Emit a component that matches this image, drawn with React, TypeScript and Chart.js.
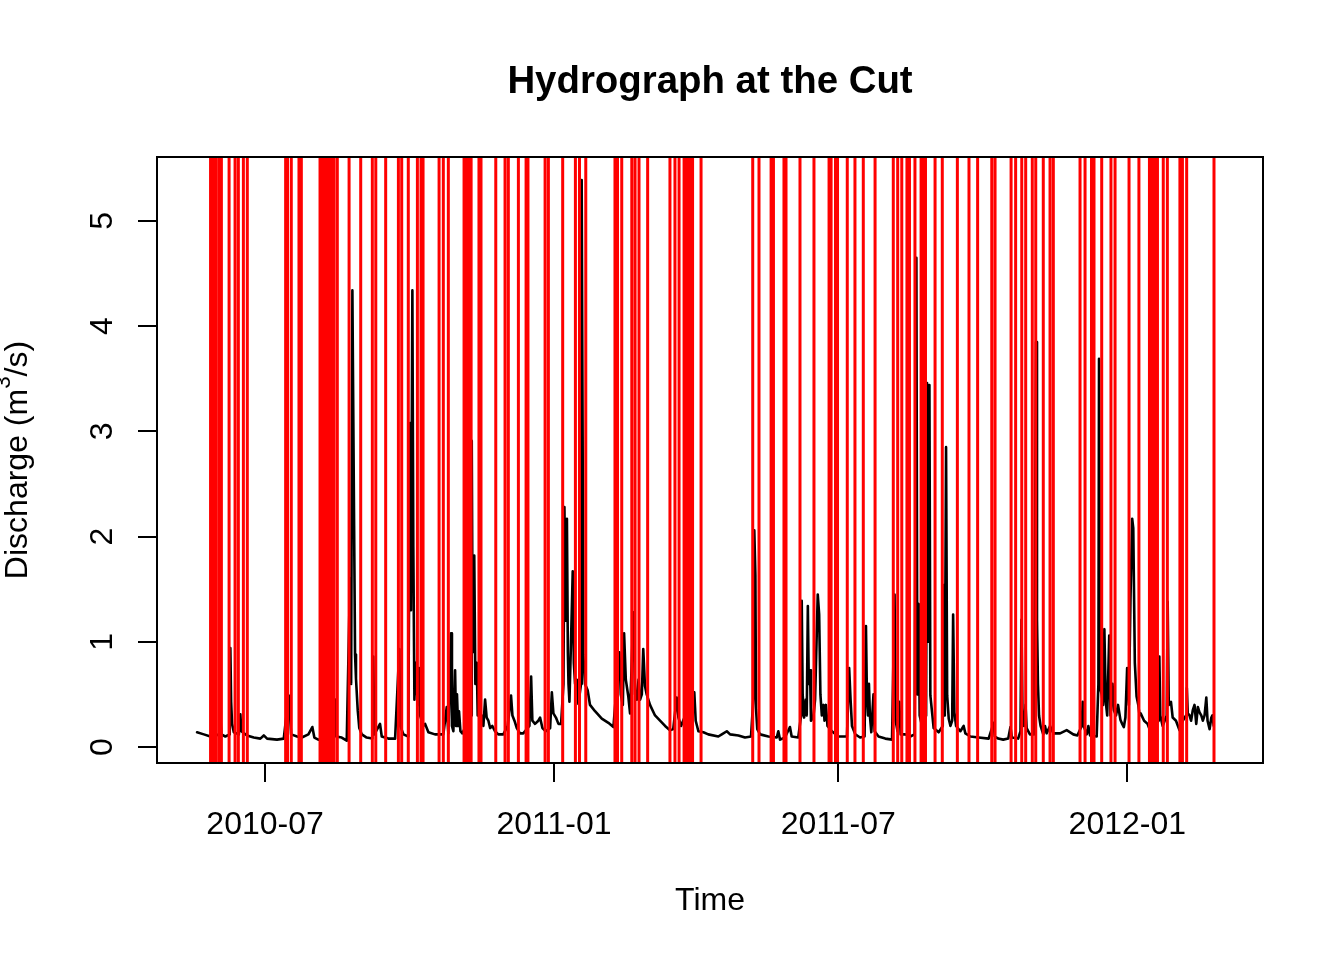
import { useEffect, useRef } from "react";
import { Chart, registerables } from "chart.js";

Chart.register(...registerables);

// ---- text ----
const TITLE = "Hydrograph at the Cut";
const X_TITLE = "Time";
const Y_TITLE_PARTS = ["Discharge (m", "3", "/s)"];

// ---- axes (x in days since 2010-07-01) ----
const X_TICK_DAYS = [0, 184, 365, 549];
const X_TICK_LABELS = ["2010-07", "2011-01", "2011-07", "2012-01"];
const Y_TICKS = [0, 1, 2, 3, 4, 5];
const X_MIN = -68.8;
const X_MAX = 635.4;
const Y_MIN = -0.152;
const Y_MAX = 5.608;

// ---- hydrograph (days since 2010-07-01, discharge m3/s) ----
const FLOW_DAYS = [
  -43.3, -39.0, -34.8, -31.6, -28.8, -28.5, -27.8, -25.3, -22.5, -22.1, -21.6, -21.0, -19.9, -16.7, -15.7, -15.1,
  -11.5, -7.2, -3.0, -0.8, 1.3, 7.6, 11.9, 15.1, 15.7, 16.6, 20.4, 23.4, 27.6, 30.1, 31.4, 33.9,
  40.3, 43.5, 44.6, 45.2, 48.8, 52.0, 54.1, 54.8, 55.6, 56.7, 57.3, 57.9, 59.0, 60.0, 61.6, 64.7,
  68.3, 68.9, 69.6, 73.2, 74.3, 78.5, 82.8, 85.5, 86.1, 88.1, 91.2, 92.3, 92.9, 93.8, 94.4, 95.1,
  95.9, 97.2, 98.0, 98.7, 100.8, 101.9, 104.0, 108.2, 111.4, 113.5, 115.7, 116.7, 118.4, 119.0, 119.9, 121.0,
  121.6, 122.2, 122.9, 123.5, 124.4, 125.6, 131.2, 131.6, 132.2, 133.2, 133.9, 134.8, 135.4, 138.0, 139.0, 140.1,
  141.1, 142.2, 143.3, 144.7, 146.4, 148.5, 151.7, 154.5, 156.6, 157.5, 158.8, 160.3, 162.3, 164.4, 168.3, 169.4,
  170.2, 171.9, 174.0, 175.1, 176.6, 178.7, 181.5, 182.6, 183.6, 185.2, 186.8, 188.5, 190.0, 190.6, 191.5, 192.2,
  192.8, 193.2, 193.8, 194.8, 195.9, 196.6, 197.4, 198.5, 199.5, 201.2, 201.6, 202.2, 202.6, 203.7, 205.4, 206.9,
  210.1, 214.4, 218.6, 221.8, 225.6, 226.5, 227.8, 228.6, 229.7, 231.3, 232.4, 234.5, 235.6, 236.7, 237.8, 238.8,
  239.9, 240.8, 241.9, 243.0, 245.1, 248.3, 251.5, 254.7, 257.8, 259.9, 262.1, 263.2, 264.9, 273.3, 274.2, 275.9,
  279.1, 282.2, 288.6, 290.8, 294.0, 296.1, 301.4, 305.6, 309.4, 311.1, 311.5, 312.2, 312.6, 313.4, 315.2, 320.5,
  325.8, 326.8, 327.9, 331.0, 334.2, 335.3, 339.5, 341.3, 341.7, 342.3, 343.2, 344.3, 344.9, 345.6, 346.2, 347.0,
  347.6, 349.1, 350.2, 351.9, 352.8, 353.6, 354.5, 355.6, 356.2, 357.1, 358.1, 360.9, 365.1, 370.5, 371.9, 372.8,
  373.7, 375.8, 377.9, 378.9, 381.7, 382.6, 383.2, 383.9, 384.5, 385.1, 386.0, 387.4, 388.1, 390.6, 394.9, 399.2,
  400.8, 401.5, 402.7, 403.8, 404.7, 407.6, 410.8, 413.6, 414.7, 415.3, 415.5, 416.2, 416.8, 418.3, 420.9, 421.5,
  422.2, 423.0, 423.6, 424.7, 425.7, 428.9, 431.5, 432.1, 432.8, 433.6, 434.3, 435.3, 436.4, 437.5, 438.1, 438.9,
  440.0, 442.7, 444.8, 445.9, 449.1, 454.4, 460.7, 463.9, 464.6, 466.8, 470.0, 473.2, 474.6, 475.5, 479.5, 481.0,
  481.6, 482.3, 483.2, 484.2, 484.9, 487.0, 489.6, 490.9, 491.5, 492.1, 492.8, 493.8, 495.5, 496.6, 497.6, 499.8,
  501.9, 506.2, 510.4, 514.6, 517.2, 520.0, 520.6, 521.2, 523.2, 524.2, 525.3, 529.5, 530.6, 531.0, 531.9, 532.7,
  533.6, 534.4, 535.3, 536.2, 537.5, 538.3, 539.6, 540.5, 541.8, 543.1, 544.6, 545.7, 546.8, 547.8, 548.9, 550.0,
  551.0, 552.1, 552.8, 553.8, 554.9, 556.0, 556.8, 557.5, 559.7, 561.9, 562.9, 566.1, 569.0, 569.4, 570.0, 571.5,
  574.1, 574.7, 575.4, 576.8, 577.9, 580.0, 582.2, 584.3, 586.4, 586.9, 587.5, 588.6, 589.6, 590.7, 591.8, 592.9,
  593.9, 595.0, 596.1, 597.1, 598.2, 599.3, 600.1, 601.4, 602.5, 603.2, 604.0,
];
const FLOW_VALUES = [
  0.14, 0.12, 0.10, 0.12, 0.11, 0.30, 0.12, 0.10, 0.12, 0.94, 0.43, 0.22, 0.14, 0.12, 0.31, 0.15,
  0.11, 0.09, 0.08, 0.11, 0.08, 0.07, 0.08, 0.49, 0.36, 0.12, 0.10, 0.09, 0.12, 0.19, 0.09, 0.07,
  0.07, 0.08, 0.45, 0.10, 0.09, 0.06, 1.6, 0.6, 4.34, 2.1, 0.88, 0.65, 0.35, 0.18, 0.12, 0.09,
  0.08, 0.86, 0.12, 0.22, 0.10, 0.08, 0.08, 0.93, 0.2, 0.12, 0.10, 3.08, 1.3, 4.34, 1.9, 0.45,
  0.8, 0.4, 0.75, 0.3, 0.2, 0.22, 0.14, 0.12, 0.12, 0.12, 0.38, 0.13, 1.08, 0.2, 0.15, 0.73,
  0.2, 0.5, 0.2, 0.34, 0.15, 0.13, 0.3, 2.91, 0.9, 1.82, 0.6, 0.8, 0.3, 0.3, 0.2, 0.45,
  0.28, 0.25, 0.18, 0.2, 0.15, 0.12, 0.12, 0.2, 0.49, 0.3, 0.25, 0.18, 0.13, 0.13, 0.2, 0.67,
  0.25, 0.22, 0.25, 0.28, 0.18, 0.15, 0.18, 0.52, 0.32, 0.28, 0.22, 0.22, 0.6, 2.28, 1.2, 2.17,
  0.9, 0.6, 0.43, 1.0, 1.67, 0.8, 0.6, 0.64, 0.41, 0.6, 5.39, 2.95, 0.88, 0.6, 0.54, 0.4,
  0.34, 0.27, 0.23, 0.19, 0.9, 0.5, 0.4, 1.08, 0.64, 0.48, 0.32, 1.28, 0.5, 0.45, 0.64, 0.45,
  0.5, 0.93, 0.58, 0.5, 0.4, 0.3, 0.25, 0.2, 0.16, 0.17, 0.47, 0.28, 0.2, 0.52, 0.25, 0.15,
  0.14, 0.12, 0.10, 0.12, 0.15, 0.12, 0.11, 0.09, 0.10, 0.5, 2.06, 1.63, 0.36, 0.17, 0.12, 0.10,
  0.09, 0.15, 0.07, 0.09, 0.19, 0.10, 0.09, 0.3, 1.39, 0.5, 0.28, 0.45, 0.3, 1.34, 0.6, 0.73,
  0.25, 0.28, 0.45, 1.45, 1.26, 0.5, 0.3, 0.4, 0.25, 0.4, 0.2, 0.15, 0.10, 0.10, 0.75, 0.45,
  0.2, 0.12, 0.10, 0.09, 0.10, 1.15, 0.5, 0.3, 0.6, 0.3, 0.14, 0.5, 0.15, 0.10, 0.08, 0.07,
  1.45, 0.25, 0.15, 0.43, 0.12, 0.12, 0.10, 0.12, 4.65, 0.5, 0.73, 1.36, 0.3, 0.2, 0.3, 3.46,
  1.0, 3.44, 0.49, 0.33, 0.18, 0.14, 0.2, 1.54, 0.3, 2.85, 0.49, 0.27, 0.2, 0.25, 1.26, 0.33,
  0.2, 0.15, 0.2, 0.13, 0.10, 0.09, 0.08, 0.23, 0.10, 0.08, 0.07, 0.08, 0.19, 0.09, 0.08, 0.15,
  1.21, 0.25, 0.2, 0.4, 0.18, 0.12, 0.12, 3.85, 1.21, 0.6, 0.3, 0.2, 0.12, 0.2, 0.13, 0.2,
  0.13, 0.13, 0.16, 0.12, 0.11, 0.2, 0.43, 0.2, 0.12, 0.2, 0.11, 0.10, 0.6, 3.69, 0.55, 0.5,
  0.4, 1.12, 0.43, 0.3, 1.06, 0.3, 0.6, 0.35, 0.3, 0.4, 0.26, 0.22, 0.19, 0.28, 0.75, 0.4,
  1.39, 2.17, 2.08, 0.8, 0.48, 0.4, 0.3, 0.32, 0.25, 0.22, 0.18, 0.2, 0.25, 0.86, 0.3, 0.2,
  0.3, 1.38, 0.4, 0.43, 0.28, 0.25, 0.16, 0.25, 0.3, 0.56, 0.32, 0.3, 0.25, 0.35, 0.4, 0.22,
  0.38, 0.33, 0.3, 0.25, 0.3, 0.47, 0.25, 0.17, 0.28, 0.3, 0.2,
];

// ---- event markers (vertical red lines, days since 2010-07-01) ----
const EVENT_DAYS = [
  -34.7, -33.1, -31.5, -29.5, -27.8, -22.9, -19.1, -17.0, -13.8, -11.3,
  13.1, 14.3, 16.7, 21.6, 23.1, 35.0, 36.3, 37.9, 39.5, 41.1, 42.3, 43.9, 46.0, 53.5,
  60.9, 68.3, 70.5, 76.8, 84.9, 87.0, 91.2, 97.0, 99.3, 100.6, 110.8, 113.5, 116.7,
  126.7, 128.0, 129.6, 131.2, 136.2, 137.5, 146.9, 152.8, 154.9, 161.3, 166.2, 167.4,
  178.3, 180.4, 189.5, 197.6, 200.2, 204.2, 222.8, 224.4, 227.1, 233.5, 235.6, 238.1,
  243.6, 257.8, 261.0, 263.6, 266.8, 268.0, 269.6, 270.9, 272.2, 277.6,
  310.5, 314.5, 322.2, 323.7, 330.4, 331.7, 340.6, 349.5, 359.1, 360.4, 363.2, 364.5,
  370.7, 375.6, 380.9, 388.4, 400.0, 402.8, 405.4, 408.7, 410.3, 413.8, 417.7, 418.9,
  420.5, 426.6, 431.2, 440.8, 448.2, 453.7, 462.7, 464.8, 475.0, 477.9, 481.8, 484.3,
  488.5, 490.7, 495.5, 499.8, 501.9, 518.9, 522.1, 526.2, 527.8, 532.7, 538.6, 541.2,
  550.1, 556.4, 563.1, 564.4, 565.7, 567.0, 568.2, 571.9, 574.5, 582.5, 584.1, 586.8, 604.2,
];

const FONT = '"Liberation Sans", Arial, Helvetica, sans-serif';

const rStylePlugin = {
  id: "rStyle",
  afterDraw(chart: any) {
    const { ctx, chartArea: a, scales } = chart;
    ctx.save();
    // box
    ctx.strokeStyle = "#000";
    ctx.lineWidth = 2;
    ctx.strokeRect(a.left, a.top, a.right - a.left, a.bottom - a.top);

    ctx.fillStyle = "#000";
    ctx.textAlign = "center";
    ctx.textBaseline = "alphabetic";
    const cx = (a.left + a.right) / 2;
    const cy = (a.top + a.bottom) / 2;

    // title
    ctx.font = `bold 38.4px ${FONT}`;
    ctx.fillText(TITLE, cx, 92.7);

    // x tick labels
    ctx.font = `32px ${FONT}`;
    scales.x.ticks.forEach((t: any) => {
      const idx = X_TICK_DAYS.indexOf(t.value);
      if (idx < 0) return;
      ctx.fillText(X_TICK_LABELS[idx], scales.x.getPixelForValue(t.value), 834);
    });

    // y tick labels (rotated, parallel to axis)
    scales.y.ticks.forEach((t: any) => {
      const py = scales.y.getPixelForValue(t.value);
      ctx.save();
      ctx.translate(111.5, py);
      ctx.rotate(-Math.PI / 2);
      ctx.fillText(String(t.value), 0, 0);
      ctx.restore();
    });

    // x title
    ctx.fillText(X_TITLE, cx, 909.5);

    // y title with superscript
    ctx.save();
    ctx.translate(27, cy);
    ctx.rotate(-Math.PI / 2);
    ctx.textAlign = "left";
    const mainFont = `32px ${FONT}`;
    const supFont = `22.4px ${FONT}`;
    ctx.font = mainFont;
    const w0 = ctx.measureText(Y_TITLE_PARTS[0]).width;
    const w2 = ctx.measureText(Y_TITLE_PARTS[2]).width;
    ctx.font = supFont;
    const w1 = ctx.measureText(Y_TITLE_PARTS[1]).width;
    let x0 = -(w0 + w1 + w2) / 2;
    ctx.font = mainFont;
    ctx.fillText(Y_TITLE_PARTS[0], x0, 0);
    x0 += w0;
    ctx.font = supFont;
    ctx.fillText(Y_TITLE_PARTS[1], x0, -17);
    x0 += w1;
    ctx.font = mainFont;
    ctx.fillText(Y_TITLE_PARTS[2], x0, 0);
    ctx.restore();

    ctx.restore();
  },
};

export default function App() {
  const ref = useRef<HTMLCanvasElement | null>(null);

  useEffect(() => {
    if (!ref.current) return;
    const flowPoints = FLOW_DAYS.map((d, i) => ({ x: d, y: FLOW_VALUES[i] }));
    const eventPoints: { x: number; y: number | null }[] = [];
    EVENT_DAYS.forEach((d) => {
      eventPoints.push({ x: d, y: Y_MIN - 1 });
      eventPoints.push({ x: d, y: Y_MAX + 1 });
      eventPoints.push({ x: d, y: null });
    });

    const chart = new Chart(ref.current, {
      type: "line",
      data: {
        datasets: [
          {
            label: "events",
            data: eventPoints as any,
            borderColor: "#FF0000",
            borderWidth: 3,
            pointRadius: 0,
            tension: 0,
            spanGaps: false,
            order: 0,
          },
          {
            label: "flow",
            data: flowPoints,
            borderColor: "#000000",
            borderWidth: 2.6,
            pointRadius: 0,
            tension: 0,
            borderJoinStyle: "round",
            borderCapStyle: "round",
            order: 1,
          },
        ],
      },
      options: {
        responsive: false,
        animation: false,
        events: [],
        layout: { padding: { top: 157, right: 81, left: 0, bottom: 0 } },
        plugins: {
          legend: { display: false },
          tooltip: { enabled: false },
          title: { display: false },
        },
        scales: {
          x: {
            type: "linear",
            min: X_MIN,
            max: X_MAX,
            afterBuildTicks: (s: any) => {
              s.ticks = X_TICK_DAYS.map((v) => ({ value: v }));
            },
            afterFit: (s: any) => {
              s.height = 197;
            },
            grid: { drawOnChartArea: false, drawTicks: true, tickLength: 19, color: "#000", lineWidth: 2 },
            border: { display: false },
            ticks: { display: false },
          },
          y: {
            type: "linear",
            min: Y_MIN,
            max: Y_MAX,
            afterBuildTicks: (s: any) => {
              s.ticks = Y_TICKS.map((v) => ({ value: v }));
            },
            afterFit: (s: any) => {
              s.width = 157;
            },
            grid: { drawOnChartArea: false, drawTicks: true, tickLength: 19, color: "#000", lineWidth: 2 },
            border: { display: false },
            ticks: { display: false },
          },
        },
      },
      plugins: [rStylePlugin],
    });
    return () => chart.destroy();
  }, []);

  return (
    <div style={{ position: "absolute", left: 0, top: 0, width: 1344, height: 960, background: "#fff" }}>
      <canvas ref={ref} width={1344} height={960} style={{ display: "block" }} />
    </div>
  );
}
